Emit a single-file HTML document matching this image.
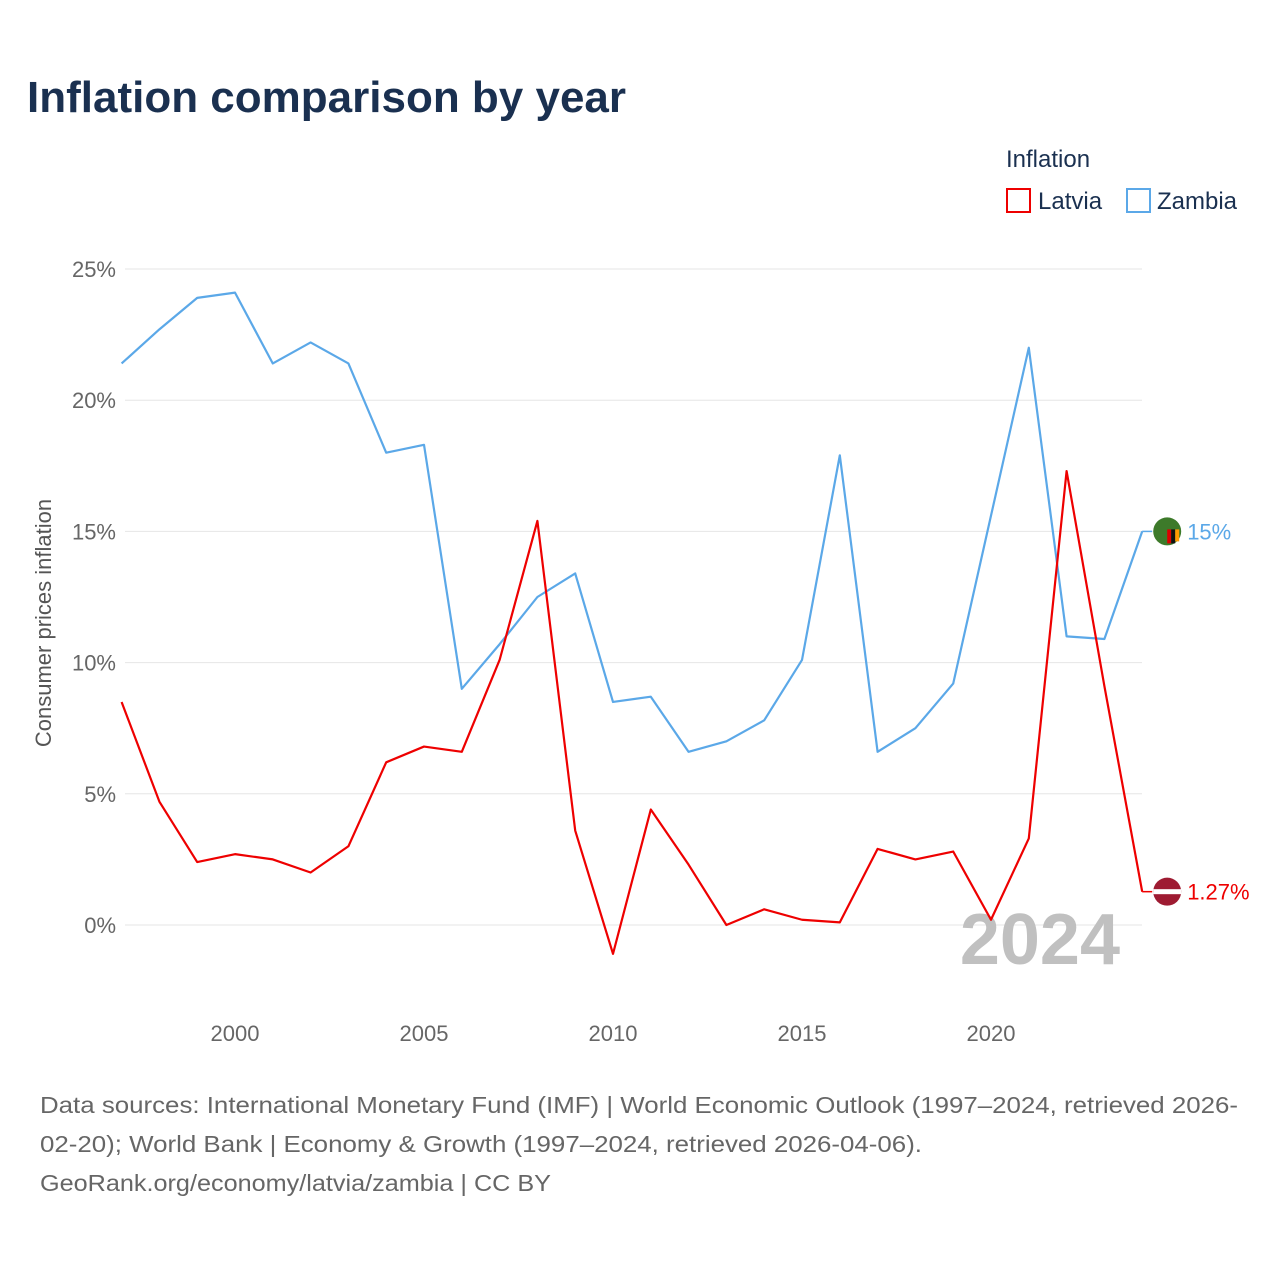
<!DOCTYPE html>
<html><head><meta charset="utf-8"><style>
body{margin:0;background:#fff;font-family:"Liberation Sans",sans-serif;}
svg text{font-family:"Liberation Sans",sans-serif;}
</style></head><body>
<svg id="chart" width="1280" height="1280" viewBox="0 0 1280 1280">
<text x="27" y="112" font-size="44" font-weight="bold" fill="#1a3050">Inflation comparison by year</text>
<text x="1006" y="167" font-size="24" fill="#1a3050">Inflation</text>
<g><rect x="1007" y="189" width="23" height="23" fill="none" stroke="#e00" stroke-width="2"/><text x="1038" y="209" font-size="24" fill="#1a3050">Latvia</text></g>
<g><rect x="1127" y="189" width="23" height="23" fill="none" stroke="#5ba8e8" stroke-width="2"/><text x="1157" y="209" font-size="24" fill="#1a3050">Zambia</text></g>
<text transform="translate(51,623) rotate(-90)" text-anchor="middle" font-size="22" fill="#555">Consumer prices inflation</text>
<g id="grid"></g><g id="xt"></g>
<text x="1120" y="964" text-anchor="end" font-size="72" font-weight="bold" fill="#c0c0c0">2024</text>
<g id="series"></g>
<text x="40" y="1113" font-size="23" fill="#666" textLength="1198" lengthAdjust="spacingAndGlyphs">Data sources: International Monetary Fund (IMF) | World Economic Outlook (1997–2024, retrieved 2026-</text>
<text x="40" y="1152" font-size="23" fill="#666" textLength="882" lengthAdjust="spacingAndGlyphs">02-20); World Bank | Economy &amp; Growth (1997–2024, retrieved 2026-04-06).</text>
<text x="40" y="1191" font-size="23" fill="#666" textLength="511" lengthAdjust="spacingAndGlyphs">GeoRank.org/economy/latvia/zambia | CC BY</text>
</svg>
<script>
const years=[1997,1998,1999,2000,2001,2002,2003,2004,2005,2006,2007,2008,2009,2010,2011,2012,2013,2014,2015,2016,2017,2018,2019,2020,2021,2022,2023,2024];
const zambia=[21.4,22.7,23.9,24.1,21.4,22.2,21.4,18.0,18.3,9.0,10.7,12.5,13.4,8.5,8.7,6.6,7.0,7.8,10.1,17.9,6.6,7.5,9.2,15.6,22.0,11.0,10.9,15.0];
const latvia=[8.5,4.7,2.4,2.7,2.5,2.0,3.0,6.2,6.8,6.6,10.1,15.4,3.6,-1.1,4.4,2.3,0.0,0.6,0.2,0.1,2.9,2.5,2.8,0.2,3.3,17.3,9.1,1.27];
const yTicks=[0,5,10,15,20,25];
const xTicks=[2000,2005,2010,2015,2020];
const NS="http://www.w3.org/2000/svg";
const X=y=>121.6+(y-1997)*37.8;
const Y=v=>925-v*26.24;
function mk(t,a,p){const e=document.createElementNS(NS,t);for(const k in a)e.setAttribute(k,a[k]);p.appendChild(e);return e;}
const grid=document.getElementById('grid');
yTicks.forEach(v=>{
 const l=mk('line',{x1:125,x2:1142,y1:Y(v),y2:Y(v),stroke:'#e6e6e6','stroke-width':1},grid);
 
 
 const t=mk('text',{x:116,y:Y(v)+8,'text-anchor':'end','font-size':22,fill:'#666'},grid);
 t.textContent=v+'%';
 
 
});
const xt=document.getElementById('xt');
xTicks.forEach(v=>{
 const t=mk('text',{x:X(v),y:1041,'text-anchor':'middle','font-size':22,fill:'#666'},xt);
 t.textContent=v;
 
 
});
const sg=document.getElementById('series');
function series(vals,col,name,label,flag){
 const p=mk('polyline',{points:vals.map((v,i)=>X(years[i])+','+Y(v)).join(' '),fill:'none',stroke:col,'stroke-width':2.2,'stroke-linejoin':'round'},sg);
 
 
 const last=vals[vals.length-1],lx=X(years[years.length-1]),ly=Y(last);
 mk('line',{x1:lx,x2:lx+10,y1:ly,y2:ly,stroke:col,'stroke-width':1.5},sg);
 const g=mk('g',{},sg);
 
 
 flag(g,lx+25,ly);
 const t=mk('text',{x:lx+45,y:ly+8,'font-size':22,fill:col},sg);
 t.textContent=label;
 
 
}
series(zambia,'#5ba8e8','zambia','15%',(g,cx,cy)=>{
 mk('circle',{cx:cx,cy:cy,r:14,fill:'#3d7a2a'},g);
 mk('rect',{x:cx,y:cy-2,width:4,height:14,fill:'#d00'},g);
 mk('rect',{x:cx+4,y:cy-2,width:4,height:14,fill:'#111'},g);
 mk('rect',{x:cx+8,y:cy-2,width:4,height:12,fill:'#f90'},g);
});
series(latvia,'#e00','latvia','1.27%',(g,cx,cy)=>{
 mk('circle',{cx:cx,cy:cy,r:14,fill:'#9e1b32'},g);
 mk('rect',{x:cx-14,y:cy-2.5,width:28,height:5,fill:'#fff'},g);
});
</script>
</body></html>
